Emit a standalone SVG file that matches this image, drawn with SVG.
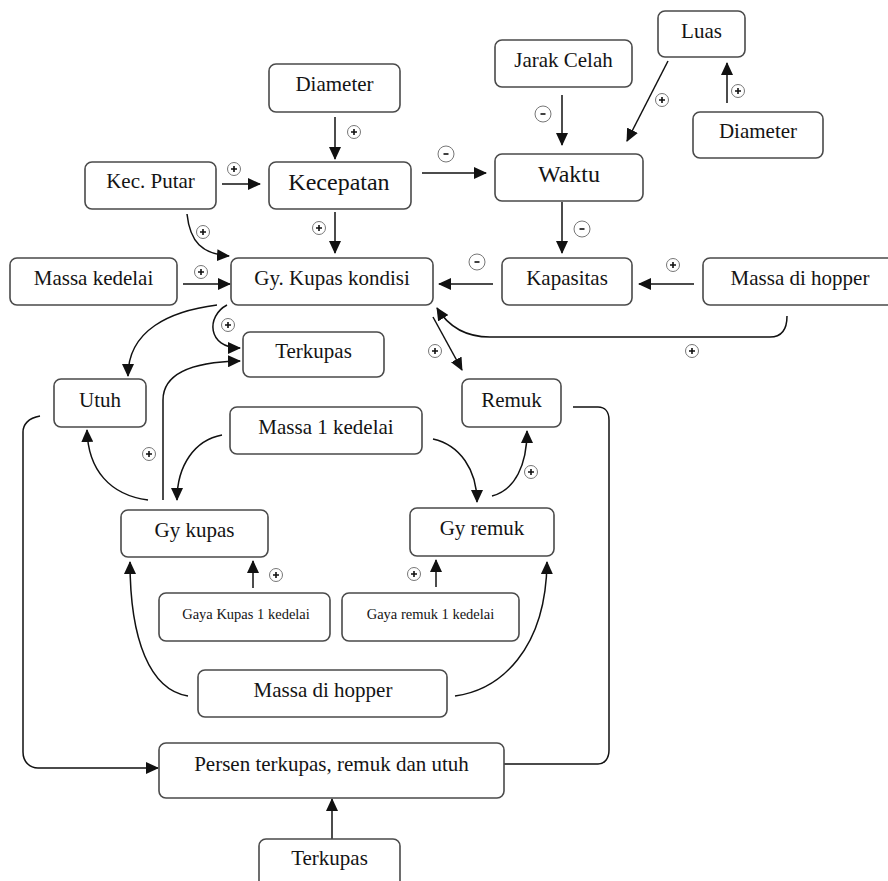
<svg xmlns="http://www.w3.org/2000/svg" width="888" height="881" viewBox="0 0 888 881">
<style>
.b{fill:#fff;stroke:#4a4a4a;stroke-width:1.6}
.t{font-family:"Liberation Serif","Times New Roman",serif;font-size:21px;fill:#141414;text-anchor:middle}
.L{font-size:24px}
.s{font-size:14.5px}
.c{fill:none;stroke:#111;stroke-width:1.5}
.p{fill:#fff;stroke:#777;stroke-width:1}
.g{stroke:#111;stroke-width:1.6}
</style>
<defs>
<marker id="a" markerUnits="userSpaceOnUse" markerWidth="14" markerHeight="12" refX="12" refY="6" orient="auto">
<path d="M0,0 L13,6 L0,12 Z" fill="#111"/>
</marker>
<g id="plus"><circle class="p" r="6.5"/><path class="g" d="M-3,0H3M0,-3V3"/></g>
<g id="minus"><circle class="p" r="8"/><path class="g" d="M-2.5,0H2.5"/></g>
</defs>
<rect width="888" height="881" fill="#fff"/>

<g id="connectors">
<path class="c" marker-end="url(#a)" d="M335,117 L335,159"/>
<path class="c" marker-end="url(#a)" d="M222,184 L260,184"/>
<path class="c" marker-end="url(#a)" d="M335,212 L335,253"/>
<path class="c" marker-end="url(#a)" d="M187,214 C190,242 202,254 229,256"/>
<path class="c" marker-end="url(#a)" d="M183,284 L230,284"/>
<path class="c" marker-end="url(#a)" d="M422,173 L486,173"/>
<path class="c" marker-end="url(#a)" d="M562,95 L562,145"/>
<path class="c" marker-end="url(#a)" d="M668,61 L627,141"/>
<path class="c" marker-end="url(#a)" d="M727,103 L727,63"/>
<path class="c" marker-end="url(#a)" d="M562,202 L562,253"/>
<path class="c" marker-end="url(#a)" d="M493,284 L439,284"/>
<path class="c" marker-end="url(#a)" d="M694,284 L639,284"/>
<path class="c" marker-end="url(#a)" d="M787,316 C787,331 780,337 770,337 L490,337 C465,337 448,326 437,308"/>
<path class="c" marker-end="url(#a)" d="M433,317 L462,370"/>
<path class="c" marker-end="url(#a)" d="M217,305 C170,311 128,330 128,376"/>
<path class="c" marker-end="url(#a)" d="M227,305 C206,316 207,348 240,348"/>
<path class="c" marker-end="url(#a)" d="M163,500 L163,400 C163,375 190,362 240,361"/>
<path class="c" marker-end="url(#a)" d="M148,500 C110,495 88,470 87,430"/>
<path class="c" marker-end="url(#a)" d="M222,435 C195,440 177,465 177,500"/>
<path class="c" marker-end="url(#a)" d="M433,439 C460,445 477,470 477,502"/>
<path class="c" marker-end="url(#a)" d="M492,496 C515,490 527,465 527,431"/>
<path class="c" marker-end="url(#a)" d="M253,588 L253,561"/>
<path class="c" marker-end="url(#a)" d="M436,587 L436,560"/>
<path class="c" marker-end="url(#a)" d="M188,696 C150,690 130,640 130,562"/>
<path class="c" marker-end="url(#a)" d="M455,696 C500,690 546,650 547,562"/>
<path class="c" marker-end="url(#a)" d="M40,416 C28,418 23,425 23,432 L23,752 C23,762 30,768 38,768 L158,768"/>
<path class="c" d="M573,407 L598,407 C605,407 609,412 609,420 L609,750 C609,758 605,764 598,764 L504,764"/>
<path class="c" marker-end="url(#a)" d="M332,839 L332,799"/>
</g>

<g id="signs">
<use href="#plus" x="354" y="132"/>
<use href="#plus" x="234" y="169"/>
<use href="#plus" x="319" y="228"/>
<use href="#plus" x="203" y="232"/>
<use href="#plus" x="201" y="272"/>
<use href="#minus" x="446" y="154"/>
<use href="#minus" x="543" y="114"/>
<use href="#plus" x="662" y="100"/>
<use href="#plus" x="738" y="91"/>
<use href="#minus" x="582" y="229"/>
<use href="#minus" x="477" y="262"/>
<use href="#plus" x="673" y="265"/>
<use href="#plus" x="228" y="325"/>
<use href="#plus" x="435" y="351"/>
<use href="#plus" x="692" y="351"/>
<use href="#plus" x="149" y="454"/>
<use href="#plus" x="531" y="472"/>
<use href="#plus" x="276" y="575"/>
<use href="#plus" x="414" y="574"/>
</g>

<g id="diameter1"><rect class="b" x="269" y="64" width="131" height="48" rx="7"/><text class="t" x="334.5" y="91">Diameter</text></g>
<g id="kecputar"><rect class="b" x="85" y="162" width="131" height="47" rx="7"/><text class="t" x="150.5" y="188">Kec. Putar</text></g>
<g id="kecepatan"><rect class="b" x="269" y="162" width="142" height="47" rx="7"/><text class="t L" x="339" y="190">Kecepatan</text></g>
<g id="massakedelai"><rect class="b" x="10" y="258" width="167" height="47" rx="7"/><text class="t" x="93.5" y="285">Massa kedelai</text></g>
<g id="gykupaskondisi"><rect class="b" x="231" y="258" width="202" height="47" rx="7"/><text class="t" x="332" y="285">Gy. Kupas kondisi</text></g>
<g id="jarakcelah"><rect class="b" x="495" y="40" width="137" height="47" rx="7"/><text class="t" x="563.5" y="67">Jarak Celah</text></g>
<g id="luas"><rect class="b" x="658" y="11" width="87" height="46" rx="7"/><text class="t" x="701.5" y="38">Luas</text></g>
<g id="diameter2"><rect class="b" x="693" y="112" width="130" height="46" rx="7"/><text class="t" x="758" y="138">Diameter</text></g>
<g id="waktu"><rect class="b" x="495" y="154" width="148" height="47" rx="7"/><text class="t L" x="569" y="182">Waktu</text></g>
<g id="kapasitas"><rect class="b" x="502" y="258" width="130" height="47" rx="7"/><text class="t" x="567" y="285">Kapasitas</text></g>
<g id="massadihopper1"><rect class="b" x="703" y="258" width="200" height="47" rx="7"/><text class="t" x="800" y="285">Massa di hopper</text></g>
<g id="terkupas1"><rect class="b" x="243" y="332" width="141" height="45" rx="7"/><text class="t" x="313.5" y="358">Terkupas</text></g>
<g id="utuh"><rect class="b" x="54" y="379" width="92" height="48" rx="7"/><text class="t" x="100" y="407">Utuh</text></g>
<g id="remuk"><rect class="b" x="462" y="379" width="99" height="48" rx="7"/><text class="t" x="511.5" y="407">Remuk</text></g>
<g id="massa1kedelai"><rect class="b" x="230" y="407" width="192" height="47" rx="7"/><text class="t" x="326" y="434">Massa 1 kedelai</text></g>
<g id="gykupas"><rect class="b" x="121" y="510" width="147" height="47" rx="7"/><text class="t" x="194.5" y="537">Gy kupas</text></g>
<g id="gyremuk"><rect class="b" x="410" y="508" width="144" height="48" rx="7"/><text class="t" x="482" y="535">Gy remuk</text></g>
<g id="gayakupas1"><rect class="b" x="159" y="593" width="171" height="48" rx="7"/><text class="t s" x="246" y="619">Gaya Kupas 1 kedelai</text></g>
<g id="gayaremuk1"><rect class="b" x="342" y="593" width="177" height="48" rx="7"/><text class="t s" x="430.5" y="619">Gaya remuk 1 kedelai</text></g>
<g id="massadihopper2"><rect class="b" x="198" y="670" width="249" height="47" rx="7"/><text class="t" x="323" y="697">Massa di hopper</text></g>
<g id="persen"><rect class="b" x="159" y="743" width="345" height="55" rx="7"/><text class="t" x="331.5" y="771">Persen terkupas, remuk dan utuh</text></g>
<g id="terkupas2"><rect class="b" x="259" y="839" width="141" height="60" rx="7"/><text class="t" x="329.5" y="865">Terkupas</text></g>
</svg>
